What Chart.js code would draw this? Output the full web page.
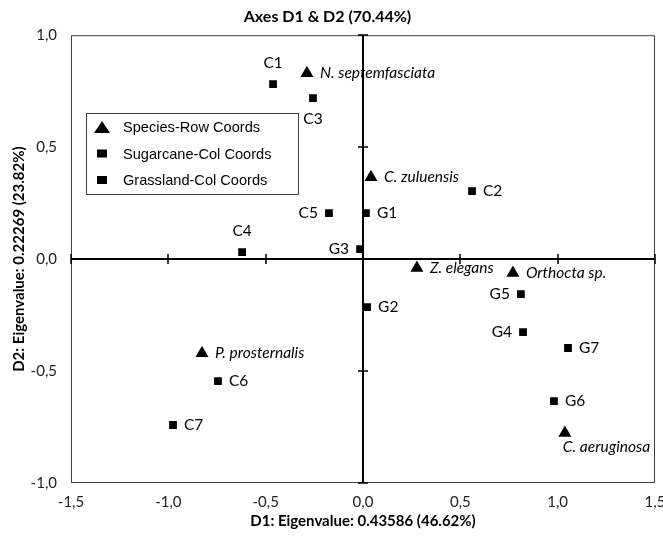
<!DOCTYPE html>
<html>
<head>
<meta charset="utf-8">
<script src="https://cdn.jsdelivr.net/npm/chart.js@4"></script>
<style>
    html, body { margin: 0; padding: 0; background: #fff; }
    #wrap { width: 663px; height: 540px; }
</style>
</head>
<body>
<div id="wrap"><canvas id="caChart" width="663" height="540"></canvas></div>
<script>
// CA biplot — D1 vs D2

const speciesNames = ['N. septemfasciata', 'C. zuluensis', 'Z. elegans', 'Orthocta sp.', 'P. prosternalis', 'C. aeruginosa'];
const speciesX = [-0.288, 0.041, 0.277, 0.770, -0.827, 1.037];
const speciesY = [0.830, 0.366, -0.040, -0.062, -0.420, -0.777];

const sugarNames = ['C1', 'C2', 'C3', 'C4', 'C5', 'C6', 'C7'];
const sugarX = [-0.462, 0.560, -0.257, -0.621, -0.175, -0.745, -0.976];
const sugarY = [0.781, 0.304, 0.719, 0.031, 0.205, -0.545, -0.741];

const grassNames = ['G1', 'G2', 'G3', 'G4', 'G5', 'G6', 'G7'];
const grassX = [0.015, 0.021, -0.015, 0.822, 0.811, 0.981, 1.053];
const grassY = [0.205, -0.214, 0.045, -0.326, -0.156, -0.634, -0.397];

const seriesNames = ['Species-Row Coords', 'Sugarcane-Col Coords', 'Grassland-Col Coords'];
const axisTicks = [-1.5, -1.0, -0.5, 0.0, 0.5, 1.0, 1.5];

// where each point label sits relative to its marker
const speciesPos = ['right', 'right', 'right', 'right', 'right', 'below'];
const sugarPos = ['above', 'right', 'below', 'above', 'left', 'right', 'right'];
const grassPos = ['right', 'right', 'left', 'left', 'left', 'right', 'right'];

const FONT = 'Lato, "Open Sans", sans-serif';
const fmt = v => v.toFixed(1).replace('.', ',');

function pts(xs, ys, names) {
    return xs.map((x, i) => ({ x: x, y: ys[i], name: names[i] }));
}

const decor = {
    id: 'decor',
    beforeDatasetsDraw(chart) {
        const { ctx, chartArea: a, scales: { x, y } } = chart;
        const x0 = Math.round(x.getPixelForValue(0));
        const y0 = Math.round(y.getPixelForValue(0));
        ctx.save();
        // frame
        ctx.strokeStyle = '#404040';
        ctx.lineWidth = 1;
        ctx.strokeRect(a.left + 0.5, a.top + 0.5, a.right - a.left - 1, a.bottom - a.top - 1);
        // zero axes
        ctx.strokeStyle = '#000';
        ctx.lineWidth = 2;
        ctx.beginPath();
        ctx.moveTo(x0, a.top); ctx.lineTo(x0, a.bottom);
        ctx.moveTo(a.left, y0); ctx.lineTo(a.right, y0);
        ctx.stroke();
        ctx.lineWidth = 1.5;
        ctx.beginPath();
        axisTicks.forEach(t => {
            const px = Math.round(x.getPixelForValue(t));
            ctx.moveTo(px, y0 - 5); ctx.lineTo(px, y0 + 5);
            if (t >= -1 && t <= 1) {
                const py = Math.round(y.getPixelForValue(t));
                ctx.moveTo(x0 - 5, py); ctx.lineTo(x0 + 5, py);
            }
        });
        ctx.stroke();
        ctx.restore();
    },
    afterDatasetsDraw(chart) {
        const { ctx } = chart;
        const posLists = [speciesPos, sugarPos, grassPos];
        ctx.save();
        ctx.fillStyle = '#000';
        chart.data.datasets.forEach((ds, di) => {
            const meta = chart.getDatasetMeta(di);
            ctx.font = (di === 0 ? 'italic ' : '') + '15.5px ' + FONT;
            meta.data.forEach((el, i) => {
                const name = ds.data[i].name;
                const pos = posLists[di][i];
                const gap = di === 0 ? 13 : 11;
                ctx.textBaseline = 'middle';
                if (pos === 'right') {
                    ctx.textAlign = 'left';
                    ctx.fillText(name, el.x + gap, el.y);
                } else if (pos === 'left') {
                    ctx.textAlign = 'right';
                    ctx.fillText(name, el.x - gap, el.y);
                } else if (pos === 'above') {
                    ctx.textAlign = 'center';
                    ctx.fillText(name, el.x, el.y - 21);
                } else {
                    ctx.textAlign = di === 0 ? 'left' : 'center';
                    ctx.fillText(name, di === 0 ? el.x - 2 : el.x, el.y + (di === 0 ? 14 : 21));
                }
            });
        });

        // legend box in the upper-left of the plot
        const bx = 86, by = 113, bw = 212, bh = 81;
        ctx.fillStyle = '#fff';
        ctx.fillRect(bx, by, bw, bh);
        ctx.strokeStyle = '#404040';
        ctx.lineWidth = 1;
        ctx.strokeRect(bx + 0.5, by + 0.5, bw, bh);
        ctx.font = '14.6px "Liberation Sans", Arial, sans-serif';
        ctx.textAlign = 'left';
        ctx.textBaseline = 'middle';
        seriesNames.forEach((label, i) => {
            const cy = by + 15 + i * 26.5;
            ctx.fillStyle = '#000';
            if (i === 0) {
                ctx.beginPath();
                ctx.moveTo(102, cy - 7);
                ctx.lineTo(110, cy + 5);
                ctx.lineTo(94, cy + 5);
                ctx.closePath();
                ctx.fill();
            } else {
                ctx.fillRect(97, cy - 5, 10, 8);
            }
            ctx.fillText(label, 123, cy);
        });
        ctx.restore();
    }
};

new Chart(document.getElementById('caChart'), {
    type: 'scatter',
    data: {
        datasets: [
            {
                label: seriesNames[0],
                data: pts(speciesX, speciesY, speciesNames),
                pointStyle: 'triangle',
                radius: 7.5,
                backgroundColor: '#000',
                borderColor: '#000',
                borderWidth: 0
            },
            {
                label: seriesNames[1],
                data: pts(sugarX, sugarY, sugarNames),
                pointStyle: 'rect',
                radius: 5.5,
                backgroundColor: '#000',
                borderColor: '#000',
                borderWidth: 0
            },
            {
                label: seriesNames[2],
                data: pts(grassX, grassY, grassNames),
                pointStyle: 'rect',
                radius: 5.5,
                backgroundColor: '#000',
                borderColor: '#000',
                borderWidth: 0
            }
        ]
    },
    options: {
        responsive: false,
        animation: false,
        layout: { padding: { left: 0, right: 8, top: 0, bottom: 0 } },
        plugins: {
            legend: { display: false },
            tooltip: { enabled: false },
            title: {
                display: true,
                text: 'Axes D1 & D2 (70.44%)',
                color: '#000',
                font: { family: FONT, size: 16, weight: 'bold' },
                padding: { top: 7, bottom: 9 }
            }
        },
        scales: {
            x: {
                type: 'linear',
                min: -1.5,
                max: 1.5,
                afterBuildTicks: s => { s.ticks = axisTicks.map(v => ({ value: v })); },
                ticks: {
                    color: '#222',
                    font: { family: FONT, size: 15 },
                    padding: 10,
                    callback: v => fmt(v)
                },
                grid: { display: false, drawTicks: false },
                border: { display: false },
                title: {
                    display: true,
                    text: 'D1: Eigenvalue: 0.43586 (46.62%)',
                    color: '#000',
                    font: { family: FONT, size: 15, weight: 'bold' },
                    padding: { top: 2, bottom: 10 }
                },
                afterFit: s => { s.height = 57; s.paddingLeft = 0; s.paddingRight = 0; }
            },
            y: {
                type: 'linear',
                min: -1.0,
                max: 1.0,
                ticks: {
                    stepSize: 0.5,
                    color: '#222',
                    font: { family: FONT, size: 15 },
                    padding: 14,
                    callback: v => fmt(v)
                },
                grid: { display: false, drawTicks: false },
                border: { display: false },
                title: {
                    display: true,
                    text: 'D2: Eigenvalue: 0.22269 (23.82%)',
                    color: '#000',
                    font: { family: FONT, size: 15, weight: 'bold' },
                    padding: { top: 10, bottom: 4 }
                },
                afterFit: s => { s.width = 71; s.paddingTop = 0; s.paddingBottom = 0; }
            }
        }
    },
    plugins: [decor]
});
</script>
</body>
</html>
